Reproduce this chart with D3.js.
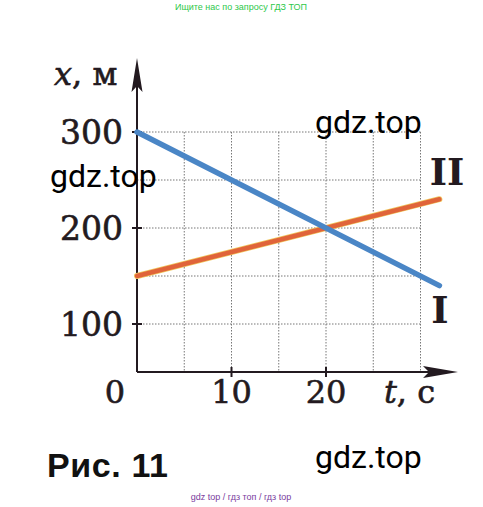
<!DOCTYPE html>
<html><head><meta charset="utf-8">
<script src="https://cdn.jsdelivr.net/npm/d3@7"></script>
<style>html,body{margin:0;padding:0;background:#fff;}svg{display:block;}</style>
</head><body>
<script>
// Data
const times = [0, 32];
const seriesI = [300, 140];
const seriesII = [150, 230];
const seriesNames = ["I", "II"];
const xTicks = [10, 20];
const yTicks = [100, 200, 300];
const xGrid = [5, 10, 15, 20, 25, 30];
const yGrid = [100, 150, 200, 250, 300];

const W = 483, H = 507;
const svg = d3.select("body").append("svg").attr("width", W).attr("height", H);

const x = d3.scaleLinear().domain([0, 30]).range([137, 420.5]);
const y = d3.scaleLinear().domain([50, 300]).range([372, 132]);

const ink = "#231a20";
const serif = "DejaVu Serif, serif";

// grid
const g = svg.append("g");
g.selectAll(".vg").data(xGrid).enter().append("line")
  .attr("x1", d => x(d)).attr("x2", d => x(d))
  .attr("y1", y(300)).attr("y2", y(50))
  .attr("stroke", "#777").attr("stroke-width", 1).attr("stroke-dasharray", "1.5,1.5");
g.selectAll(".hg").data(yGrid).enter().append("line")
  .attr("x1", x(0)).attr("x2", x(30))
  .attr("y1", d => y(d)).attr("y2", d => y(d))
  .attr("stroke", "#777").attr("stroke-width", 1).attr("stroke-dasharray", "1.5,1.5");

// axes lines
svg.append("line").attr("x1", x(0)).attr("x2", 430).attr("y1", y(50)).attr("y2", y(50))
  .attr("stroke", ink).attr("stroke-width", 2);
svg.append("line").attr("x1", x(0)).attr("x2", x(0)).attr("y1", y(50)).attr("y2", 85)
  .attr("stroke", ink).attr("stroke-width", 2);
// arrowheads
const ax = x(0);
svg.append("path").attr("d", `M${ax},58 L${ax+5.5},92 L${ax},86 L${ax-5.5},92 Z`).attr("fill", ink);
const ay = y(50);
svg.append("path").attr("d", `M458,${ay} L423,${ay-6} L429,${ay} L423,${ay+6} Z`).attr("fill", ink);

// ticks
svg.selectAll(".yt").data(yTicks).enter().append("line")
  .attr("x1", ax - 5).attr("x2", ax + 5).attr("y1", d => y(d)).attr("y2", d => y(d))
  .attr("stroke", ink).attr("stroke-width", 2);
svg.selectAll(".xt").data(xTicks).enter().append("line")
  .attr("x1", d => x(d)).attr("x2", d => x(d)).attr("y1", ay - 5).attr("y2", ay + 5)
  .attr("stroke", ink).attr("stroke-width", 2);

// tick labels
svg.selectAll(".ytl").data(yTicks).enter().append("text")
  .attr("x", 123).attr("y", d => y(d) + 12)
  .attr("text-anchor", "end").attr("font-family", serif).attr("font-size", 33).attr("fill", ink)
  .attr("stroke", ink).attr("stroke-width", 0.6)
  .text(d => d);
svg.selectAll(".xtl").data(xTicks).enter().append("text")
  .attr("x", d => x(d)).attr("y", 403)
  .attr("text-anchor", "middle").attr("font-family", serif).attr("font-size", 32).attr("fill", ink)
  .attr("stroke", ink).attr("stroke-width", 0.6)
  .text(d => d);
svg.append("text").attr("x", 115).attr("y", 403).attr("text-anchor", "middle")
  .attr("font-family", serif).attr("font-size", 32).attr("fill", ink)
  .attr("stroke", ink).attr("stroke-width", 0.6).text("0");

// axis titles
const yt = svg.append("text").attr("x", 54).attr("y", 85).attr("font-family", serif).attr("font-size", 32).attr("fill", ink)
  .attr("stroke", ink).attr("stroke-width", 0.6);
yt.append("tspan").attr("font-style", "italic").text("x");
yt.append("tspan").text(", м");
const xt = svg.append("text").attr("x", 384).attr("y", 403).attr("font-family", serif).attr("font-size", 32).attr("fill", ink)
  .attr("stroke", ink).attr("stroke-width", 0.6);
xt.append("tspan").attr("font-style", "italic").text("t");
xt.append("tspan").text(", с");

// lines
const line = d3.line().x(d => x(d[0])).y(d => y(d[1]));
const dI = times.map((t, i) => [t, seriesI[i]]);
const dII = times.map((t, i) => [t, seriesII[i]]);
svg.append("path").datum(dII).attr("d", line).attr("fill", "none")
  .attr("stroke", "#f0c860").attr("stroke-width", 6).attr("stroke-linecap", "round");
svg.append("path").datum(dII).attr("d", line).attr("fill", "none")
  .attr("stroke", "#e0643a").attr("stroke-width", 4.5).attr("stroke-linecap", "round");
svg.append("path").datum(dI).attr("d", line).attr("fill", "none")
  .attr("stroke", "#4a86c6").attr("stroke-width", 5.5).attr("stroke-linecap", "round");

// series labels
svg.append("text").attr("x", 447).attr("y", 185).attr("text-anchor", "middle")
  .attr("font-family", serif).attr("font-weight", "bold").attr("font-size", 37).attr("fill", ink).text(seriesNames[1]);
svg.append("text").attr("x", 440).attr("y", 323).attr("text-anchor", "middle")
  .attr("font-family", serif).attr("font-weight", "bold").attr("font-size", 37).attr("fill", ink).text(seriesNames[0]);

// caption
svg.append("text").attr("x", 47).attr("y", 477).attr("font-family", "Liberation Sans, Arial, sans-serif")
  .attr("font-weight", "bold").attr("font-size", 34).attr("letter-spacing", 0.6).attr("fill", "#111").text("Рис. 11");

// watermarks
const wm = [[315, 133], [50, 187], [315, 468]];
svg.selectAll(".wm").data(wm).enter().append("text")
  .attr("x", d => d[0]).attr("y", d => d[1])
  .attr("font-family", "Roboto, sans-serif").attr("font-size", 32).attr("fill", "#000")
  .text("gdz.top");
svg.append("text").attr("x", 241).attr("y", 10).attr("text-anchor", "middle")
  .attr("font-family", "Liberation Sans, Arial, sans-serif").attr("font-size", 9).attr("fill", "#2ec84a")
  .text("Ищите нас по запросу ГДЗ ТОП");
svg.append("text").attr("x", 241).attr("y", 500).attr("text-anchor", "middle")
  .attr("font-family", "Liberation Sans, Arial, sans-serif").attr("font-size", 9).attr("fill", "#7a3d9e")
  .text("gdz top / гдз топ / гдз top");
</script>
</body></html>
